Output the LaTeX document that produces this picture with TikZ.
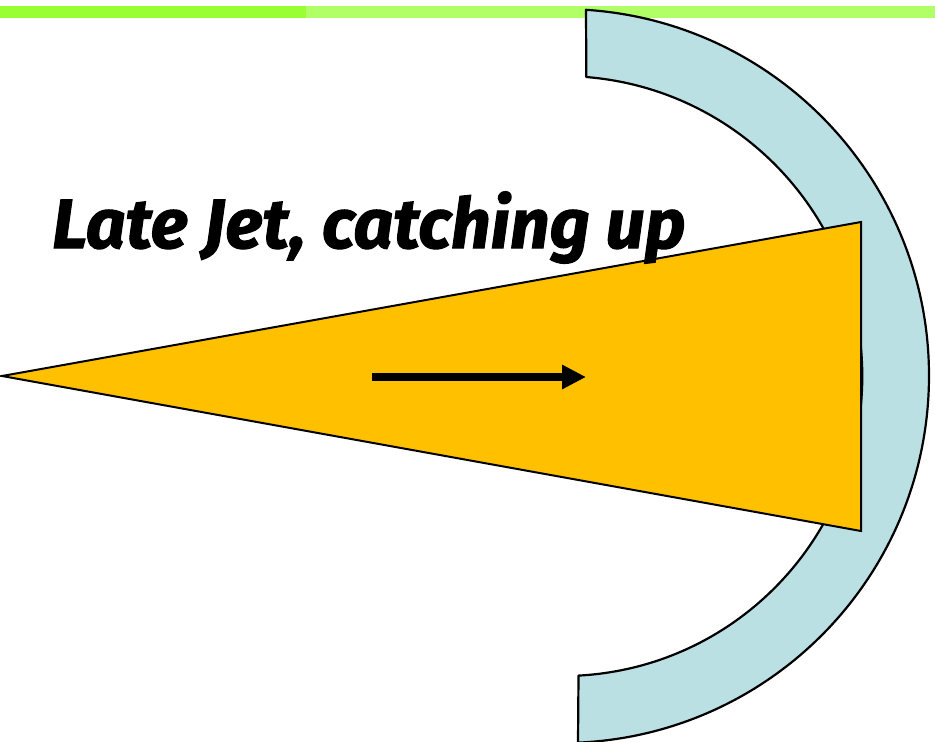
\documentclass[tikz,border=0pt]{standalone}
\usepackage{fontspec}
\setmainfont{Fira Sans}
\newfontfamily\jettitlefont[BoldItalicFeatures={FakeBold=1.5}]{Fira Sans}
\usetikzlibrary{arrows.meta}
\definecolor{bardark}{RGB}{153,255,51}
\definecolor{barlight}{RGB}{176,255,102}
\definecolor{shellblue}{RGB}{187,224,227}
\definecolor{jetorange}{RGB}{255,192,0}
\tikzset{
  bar/.style={draw=none},
  shell/.style={fill=shellblue, draw=black, line width=2.2pt, line join=round},
  jet/.style={fill=jetorange, draw=black, line width=2pt, line join=miter},
  motion/.style={line width=8pt, -{Triangle[length=24pt,width=23pt]}},
  title/.style={anchor=base west, inner sep=0pt}
}
\begin{document}
\begin{tikzpicture}[x=1pt,y=-1pt]
\useasboundingbox (0,0) rectangle (935,742);
% top bars
\fill[bardark] (0,6) rectangle (306,17.5);
\fill[barlight] (306,6) rectangle (935,17.5);
% shell (block arc), centre (562,376)
\draw[shell] (586,9.8) arc[start angle=-86.25, end angle=87.5, radius=367]
  -- (578.5,675.6) arc[start angle=86.9, end angle=-85.4, radius=300] -- cycle;
% jet cone
\draw[jet] (2,376) -- (861,222) -- (861,531) -- cycle;
% motion arrow
\coordinate (a0) at (372,377);
\coordinate (a1) at (586,377);
\draw[motion] (a0) -- (a1);
% title
\node[title] (t) at (52,248) {\resizebox{633pt}{!}{\jettitlefont\bfseries\itshape Late Jet, catching up}};
\end{tikzpicture}
\end{document}
